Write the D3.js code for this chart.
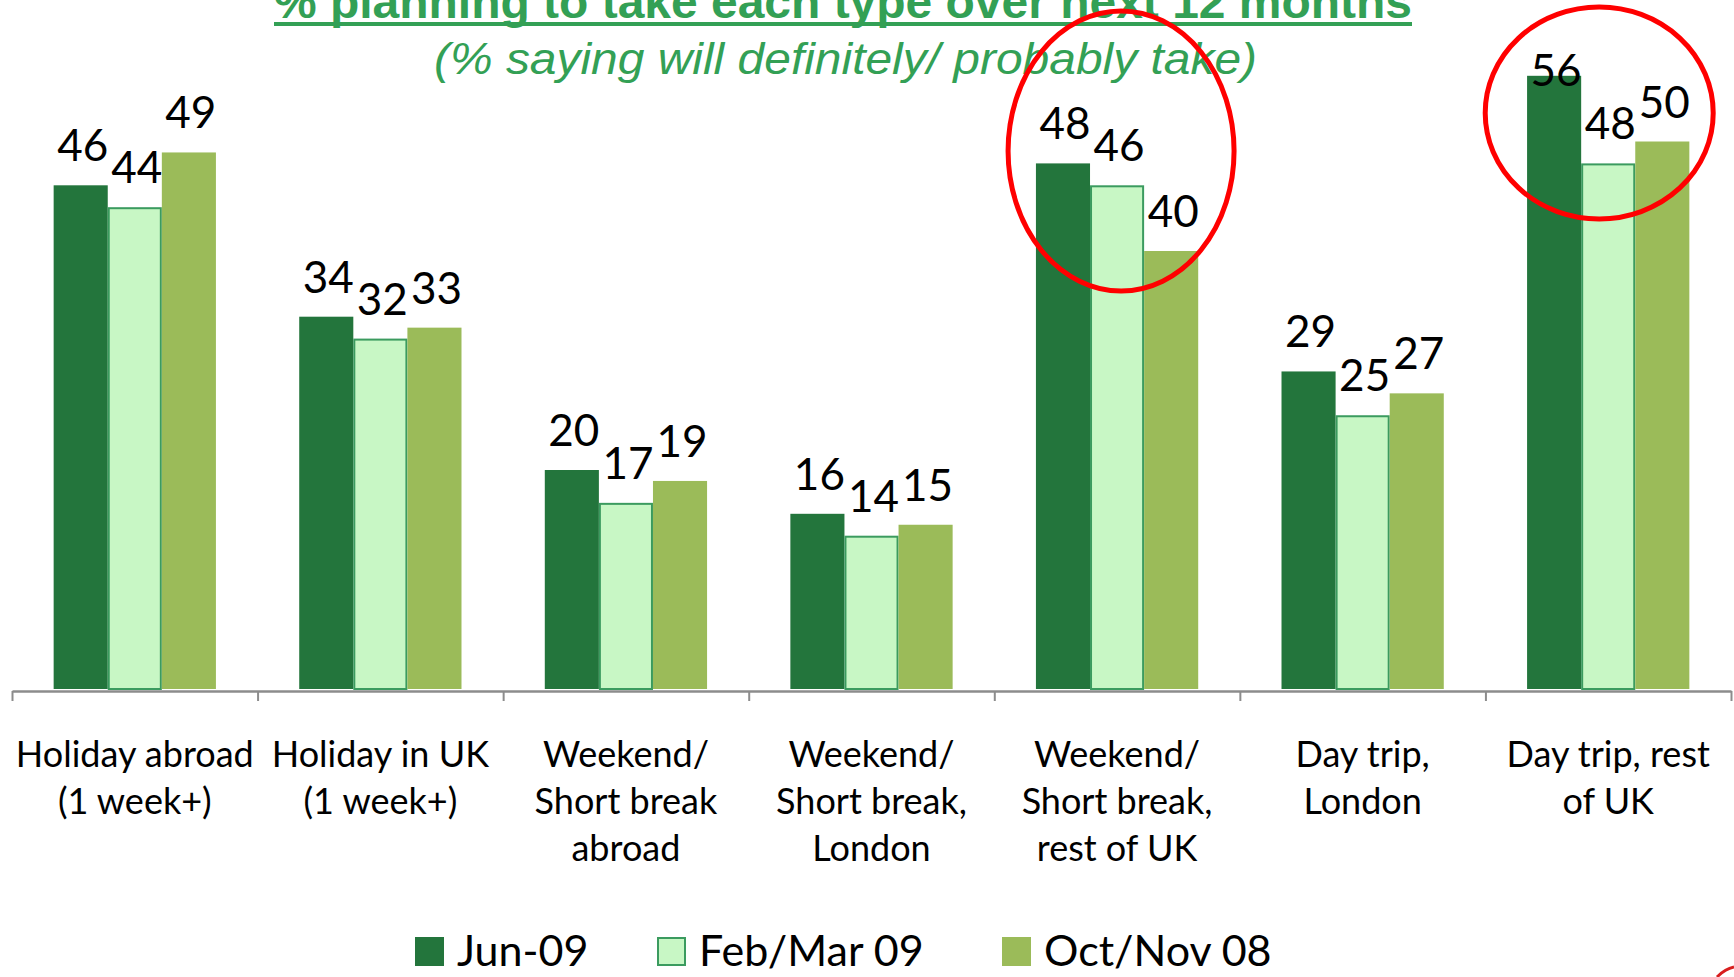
<!DOCTYPE html>
<html>
<head>
<meta charset="utf-8">
<script src="https://cdn.jsdelivr.net/npm/d3@7"></script>
<style>
  html, body { margin: 0; padding: 0; background: #fff; }
  svg { display: block; }
</style>
</head>
<body>
<div id="chart-container"></div>
<script>
// data
const categories = ["Holiday abroad (1 week+)", "Holiday in UK (1 week+)", "Weekend/ Short break abroad",
    "Weekend/ Short break, London", "Weekend/ Short break, rest of UK", "Day trip, London", "Day trip, rest of UK"];
const categoryLines = [
    ["Holiday abroad", "(1 week+)"],
    ["Holiday in UK", "(1 week+)"],
    ["Weekend/", "Short break", "abroad"],
    ["Weekend/", "Short break,", "London"],
    ["Weekend/", "Short break,", "rest of UK"],
    ["Day trip,", "London"],
    ["Day trip, rest", "of UK"]
];
const seriesNames = ["Jun-09", "Feb/Mar 09", "Oct/Nov 08"];
const jun09 = [46, 34, 20, 16, 48, 29, 56];
const febMar09 = [44, 32, 17, 14, 46, 25, 48];
const octNov08 = [49, 33, 19, 15, 40, 27, 50];
const highlighted = ["Weekend/ Short break, rest of UK", "Day trip, rest of UK"];

const titleText = "% planning to take each type over next 12 months";
const subtitleText = "(% saying will definitely/ probably take)";

function makeChart() {
    const width = 1734, height = 977;
    const green = "#33a055";
    const fills = ["#23753c", "#c8f7c5", "#9bbb59"];
    const strokes = ["none", "#3b9b5f", "none"];
    const allSeries = [jun09, febMar09, octNov08];
    const fontBody = "Lato, 'Open Sans', sans-serif";

    const svg = d3.select("#chart-container")
        .append("svg")
        .attr("width", width)
        .attr("height", height);

    const x0 = d3.scaleBand().domain(categories).range([12, 1731]);
    const x1 = d3.scaleBand().domain(seriesNames).range([0, x0.bandwidth()]).paddingOuter(0.77);
    const y = d3.scaleLinear().domain([0, 60]).range([689, 32]);

    // title (top is cut off by the frame, as in the original)
    svg.append("text")
        .attr("x", 274).attr("y", 18)
        .attr("textLength", 1138).attr("lengthAdjust", "spacingAndGlyphs")
        .style("font-family", "'Liberation Sans Narrow', 'Liberation Sans', Arial, sans-serif")
        .style("font-weight", "bold")
        .style("font-size", "46px")
        .style("fill", green)
        .text(titleText);
    svg.append("rect")
        .attr("x", 274).attr("y", 22).attr("width", 1138).attr("height", 4)
        .attr("fill", green);

    svg.append("text")
        .attr("x", 434).attr("y", 74)
        .attr("textLength", 823).attr("lengthAdjust", "spacingAndGlyphs")
        .style("font-family", "'Liberation Sans Narrow', 'Liberation Sans', Arial, sans-serif")
        .style("font-style", "italic")
        .style("font-size", "44px")
        .style("fill", green)
        .text(subtitleText);

    // bars
    const rows = categories.map((c, i) => ({
        category: c,
        values: seriesNames.map((s, j) => ({ series: s, j: j, value: allSeries[j][i] }))
    }));

    const groups = svg.selectAll(".group")
        .data(rows)
        .enter()
        .append("g")
        .attr("class", "group")
        .attr("transform", d => "translate(" + x0(d.category) + ",0)");

    groups.selectAll("rect")
        .data(d => d.values)
        .enter()
        .append("rect")
        .attr("x", d => x1(d.series) + (d.j === 1 ? 1 : 0))
        .attr("y", d => y(d.value) + (d.j === 1 ? 1 : 0))
        .attr("width", d => x1.bandwidth() - (d.j === 1 ? 2 : 0))
        .attr("height", d => y(0) - y(d.value) - (d.j === 1 ? 1 : 0))
        .attr("fill", d => fills[d.j])
        .attr("stroke", d => strokes[d.j])
        .attr("stroke-width", 2);

    groups.selectAll(".val")
        .data(d => d.values)
        .enter()
        .append("text")
        .attr("class", "val")
        .attr("x", d => x1(d.series) + x1.bandwidth() / 2 + 2)
        .attr("y", d => Math.max(y(d.value) - 24, 86))
        .attr("text-anchor", "middle")
        .style("font-family", fontBody)
        .style("font-size", "44px")
        .style("fill", "#000")
        .text(d => d.value);

    // axis with boundary ticks
    const xb = d3.scaleLinear().domain([0, categories.length]).range([12, 1731]);
    const axis = svg.append("g")
        .attr("transform", "translate(0,691)")
        .call(d3.axisBottom(xb).tickValues(d3.range(categories.length + 1)).tickFormat("").tickSize(10).tickSizeOuter(0));
    axis.select(".domain").attr("stroke", "#8c8c8c").attr("stroke-width", 2.5);
    axis.selectAll(".tick line").attr("stroke", "#8c8c8c").attr("stroke-width", 2);

    // category labels
    const lab = svg.selectAll(".cat")
        .data(categories)
        .enter()
        .append("text")
        .attr("class", "cat")
        .attr("text-anchor", "middle")
        .style("font-family", fontBody)
        .style("font-size", "36px")
        .style("fill", "#000");
    lab.each(function(d, i) {
        const t = d3.select(this);
        categoryLines[i].forEach((line, k) => {
            t.append("tspan")
                .attr("x", x0(d) + x0.bandwidth() / 2)
                .attr("y", 767 + k * 47)
                .text(line);
        });
    });

    // red highlight rings
    const ringSpecs = { [highlighted[0]]: { dx: 4, cy: 151, rx: 113, ry: 140 },
                        [highlighted[1]]: { dx: -9, cy: 113, rx: 114, ry: 106 } };
    svg.selectAll(".ring")
        .data(highlighted)
        .enter()
        .append("ellipse")
        .attr("class", "ring")
        .attr("cx", d => x0(d) + x0.bandwidth() / 2 + ringSpecs[d].dx)
        .attr("cy", d => ringSpecs[d].cy)
        .attr("rx", d => ringSpecs[d].rx)
        .attr("ry", d => ringSpecs[d].ry)
        .attr("fill", "none")
        .attr("stroke", "#ff0000")
        .attr("stroke-width", 5);

    // legend
    const legendX = [415, 657, 1002];
    const leg = svg.selectAll(".legend")
        .data(seriesNames)
        .enter()
        .append("g")
        .attr("class", "legend")
        .attr("transform", (d, i) => "translate(" + legendX[i] + ",937)");
    leg.append("rect")
        .attr("x", (d, i) => i === 1 ? 1 : 0)
        .attr("y", (d, i) => i === 1 ? 1 : 0)
        .attr("width", (d, i) => i === 1 ? 27 : 29)
        .attr("height", (d, i) => i === 1 ? 27 : 29)
        .attr("fill", (d, i) => fills[i])
        .attr("stroke", (d, i) => strokes[i])
        .attr("stroke-width", 2);
    leg.append("text")
        .attr("x", 42)
        .attr("y", 29)
        .style("font-family", fontBody)
        .style("font-size", "43px")
        .style("fill", "#000")
        .text(d => d);

    // small red mark in the corner
    svg.append("path")
        .attr("d", "M1717,977 Q1725,969 1734,967")
        .attr("fill", "none")
        .attr("stroke", "#d81e1e")
        .attr("stroke-width", 3);
}
makeChart();
</script>
</body>
</html>
